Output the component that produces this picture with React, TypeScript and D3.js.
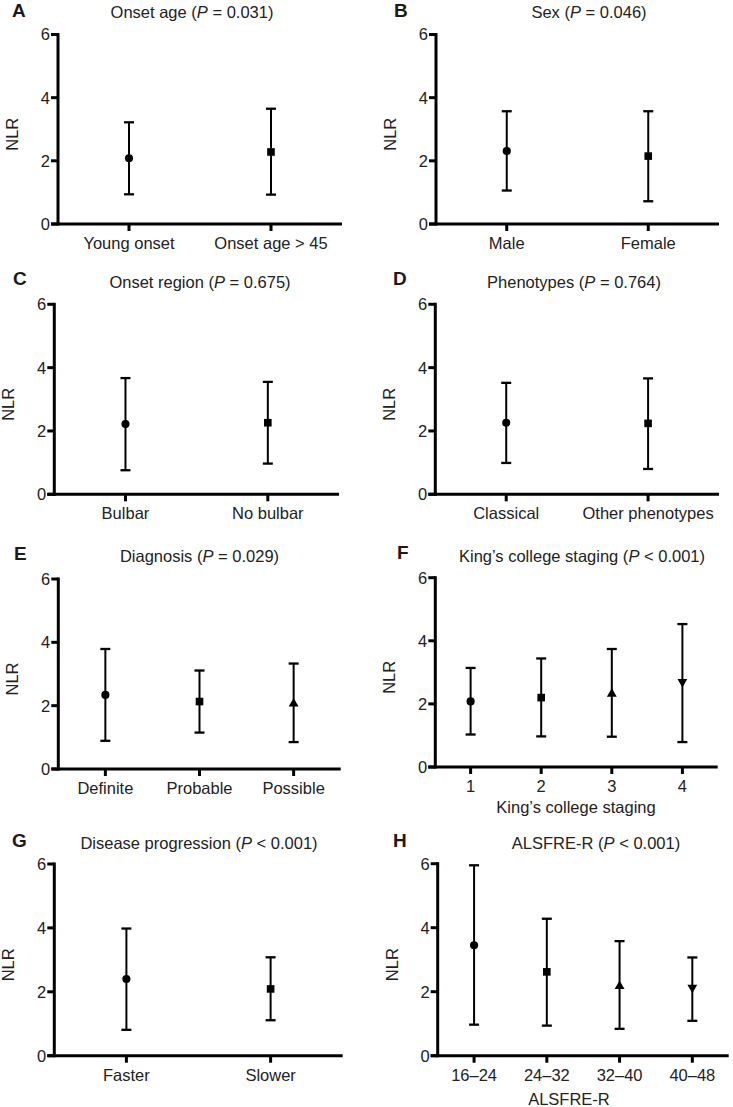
import React from 'react';
import * as d3 from 'd3';

const yTicks = [0, 2, 4, 6];

const catsA = ['Young onset', 'Onset age > 45'];
const meanA = [2.08, 2.28];
const upperA = [3.22, 3.65];
const lowerA = [0.94, 0.93];

const catsB = ['Male', 'Female'];
const meanB = [2.31, 2.15];
const upperB = [3.57, 3.57];
const lowerB = [1.06, 0.72];

const catsC = ['Bulbar', 'No bulbar'];
const meanC = [2.22, 2.26];
const upperC = [3.67, 3.55];
const lowerC = [0.76, 0.97];

const catsD = ['Classical', 'Other phenotypes'];
const meanD = [2.26, 2.24];
const upperD = [3.52, 3.66];
const lowerD = [0.99, 0.8];

const catsE = ['Definite', 'Probable', 'Possible'];
const meanE = [2.34, 2.13, 2.06];
const upperE = [3.79, 3.11, 3.33];
const lowerE = [0.89, 1.15, 0.85];

const catsF = ['1', '2', '3', '4'];
const meanF = [2.08, 2.2, 2.32, 2.7];
const upperF = [3.14, 3.44, 3.74, 4.53];
const lowerF = [1.03, 0.97, 0.96, 0.79];

const catsG = ['Faster', 'Slower'];
const meanG = [2.4, 2.09];
const upperG = [3.98, 3.08];
const lowerG = [0.81, 1.11];

const catsH = ['16–24', '24–32', '32–40', '40–48'];
const meanH = [3.45, 2.62, 2.17, 2.13];
const upperH = [5.95, 4.28, 3.58, 3.07];
const lowerH = [0.97, 0.94, 0.84, 1.09];

type PanelData = {
  letter: string;
  name: string;
  op: string;
  pval: string;
  cats: string[];
  mean: number[];
  upper: number[];
  lower: number[];
  xTitle?: string;
};

const panels: PanelData[] = [
  { letter: 'A', name: 'Onset age', op: '=', pval: '0.031', cats: catsA, mean: meanA, upper: upperA, lower: lowerA },
  { letter: 'B', name: 'Sex', op: '=', pval: '0.046', cats: catsB, mean: meanB, upper: upperB, lower: lowerB },
  { letter: 'C', name: 'Onset region', op: '=', pval: '0.675', cats: catsC, mean: meanC, upper: upperC, lower: lowerC },
  { letter: 'D', name: 'Phenotypes', op: '=', pval: '0.764', cats: catsD, mean: meanD, upper: upperD, lower: lowerD },
  { letter: 'E', name: 'Diagnosis', op: '=', pval: '0.029', cats: catsE, mean: meanE, upper: upperE, lower: lowerE },
  { letter: 'F', name: 'King’s college staging', op: '<', pval: '0.001', cats: catsF, mean: meanF, upper: upperF, lower: lowerF, xTitle: 'King’s college staging' },
  { letter: 'G', name: 'Disease progression', op: '<', pval: '0.001', cats: catsG, mean: meanG, upper: upperG, lower: lowerG },
  { letter: 'H', name: 'ALSFRE-R', op: '<', pval: '0.001', cats: catsH, mean: meanH, upper: upperH, lower: lowerH, xTitle: 'ALSFRE-R' },
];

type Layout = {
  ax: number; xEnd: number; yTop: number; yBot: number;
  titleX: number; titleY: number; letterX: number; letterY: number;
  xTitleX?: number; xTitleY?: number;
};

const layouts: Layout[] = [
  { ax: 58, xEnd: 342, yTop: 34.5, yBot: 224, titleX: 192, titleY: 18.3, letterX: 12, letterY: 16.7 },
  { ax: 436, xEnd: 719, yTop: 34.5, yBot: 224, titleX: 589, titleY: 18.3, letterX: 394, letterY: 16.7 },
  { ax: 54.3, xEnd: 339, yTop: 304.3, yBot: 494.3, titleX: 200, titleY: 287.7, letterX: 13, letterY: 285 },
  { ax: 435.3, xEnd: 719, yTop: 304.3, yBot: 494.3, titleX: 574, titleY: 287.7, letterX: 393, letterY: 285 },
  { ax: 58.3, xEnd: 340.7, yTop: 579, yBot: 769, titleX: 199.5, titleY: 561.7, letterX: 14, letterY: 560 },
  { ax: 435.3, xEnd: 717.7, yTop: 577.7, yBot: 767, titleX: 582, titleY: 561.7, letterX: 397, letterY: 559, xTitleX: 576, xTitleY: 813.3 },
  { ax: 54.3, xEnd: 342.7, yTop: 864, yBot: 1055.7, titleX: 199, titleY: 849, letterX: 12, letterY: 846.7 },
  { ax: 437.7, xEnd: 728.7, yTop: 863.7, yBot: 1055.7, titleX: 596, titleY: 849, letterX: 393, letterY: 846.7, xTitleX: 569, xTitleY: 1105.3 },
];

const FONT = '"Liberation Sans", Arial, Helvetica, sans-serif';
const FS = 16.5;

const symbolPath = (i: number) => {
  if (i === 0) return d3.symbol().type(d3.symbolCircle).size(52)()!;
  if (i === 1) return d3.symbol().type(d3.symbolSquare).size(58)()!;
  return d3.symbol().type(d3.symbolTriangle).size(42)()!;
};

function Panel({ d, l }: { d: PanelData; l: Layout }) {
  const y = d3.scaleLinear().domain([0, 6]).range([l.yBot, l.yTop]);
  const x = d3.scalePoint<string>().domain(d.cats).range([l.ax, l.xEnd]).padding(0.5);
  const tickLen = 7;
  const capW = 10;
  return (
    <g>
      <text x={l.letterX} y={l.letterY} fontFamily={FONT} fontWeight="bold" fontSize={19} fill="#1a1a1a">{d.letter}</text>
      <text x={l.titleX} y={l.titleY} textAnchor="middle" fontFamily={FONT} fontSize={FS} fill="#222">
        {d.name} (<tspan fontStyle="italic">P</tspan> {d.op} {d.pval})
      </text>
      {/* y axis */}
      <line x1={l.ax} x2={l.ax} y1={y(6) - 1.5} y2={y(0) + 1.5} stroke="#000" strokeWidth={3} />
      {yTicks.map((t) => (
        <g key={t}>
          <line x1={l.ax - tickLen} x2={l.ax} y1={y(t)} y2={y(t)} stroke="#000" strokeWidth={3} />
          <text x={l.ax - 8} y={y(t)} dy="0.36em" textAnchor="end" fontFamily={FONT} fontSize={FS} fill="#222">{t}</text>
        </g>
      ))}
      {/* x axis */}
      <line x1={l.ax - tickLen} x2={l.xEnd} y1={y(0)} y2={y(0)} stroke="#000" strokeWidth={3} />
      {d.cats.map((c) => (
        <g key={c}>
          <line x1={x(c)!} x2={x(c)!} y1={y(0)} y2={y(0) + tickLen} stroke="#000" strokeWidth={3} />
          <text x={x(c)!} y={y(0) + 25} textAnchor="middle" fontFamily={FONT} fontSize={FS} fill="#222">{c}</text>
        </g>
      ))}
      <text
        transform={`translate(${l.ax - 46},${(l.yTop + l.yBot) / 2 + 5}) rotate(-90)`}
        textAnchor="middle"
        dy="0.36em"
        fontFamily={FONT}
        fontSize={FS}
        fill="#222"
      >NLR</text>
      {d.xTitle && (
        <text x={l.xTitleX} y={l.xTitleY} textAnchor="middle" fontFamily={FONT} fontSize={FS} fill="#222">{d.xTitle}</text>
      )}
      {/* error bars */}
      {d.cats.map((c, i) => {
        const cx = x(c)!;
        return (
          <g key={'e' + c}>
            <line x1={cx} x2={cx} y1={y(d.upper[i])} y2={y(d.lower[i])} stroke="#000" strokeWidth={2} />
            <line x1={cx - capW / 2} x2={cx + capW / 2} y1={y(d.upper[i])} y2={y(d.upper[i])} stroke="#000" strokeWidth={2.3} />
            <line x1={cx - capW / 2} x2={cx + capW / 2} y1={y(d.lower[i])} y2={y(d.lower[i])} stroke="#000" strokeWidth={2.3} />
            <path
              d={symbolPath(i)}
              transform={`translate(${cx},${y(d.mean[i])})${i === 3 ? ' rotate(180)' : ''}`}
              fill="#000"
            />
          </g>
        );
      })}
    </g>
  );
}

export default function App() {
  return (
    <svg
      width={733}
      height={1107}
      viewBox="0 0 733 1107"
      style={{ position: 'absolute', left: 0, top: 0, background: '#fff' }}
    >
      <rect x={0} y={0} width={733} height={1107} fill="#fff" />
      {panels.map((p, i) => (
        <Panel key={p.letter} d={p} l={layouts[i]} />
      ))}
    </svg>
  );
}
